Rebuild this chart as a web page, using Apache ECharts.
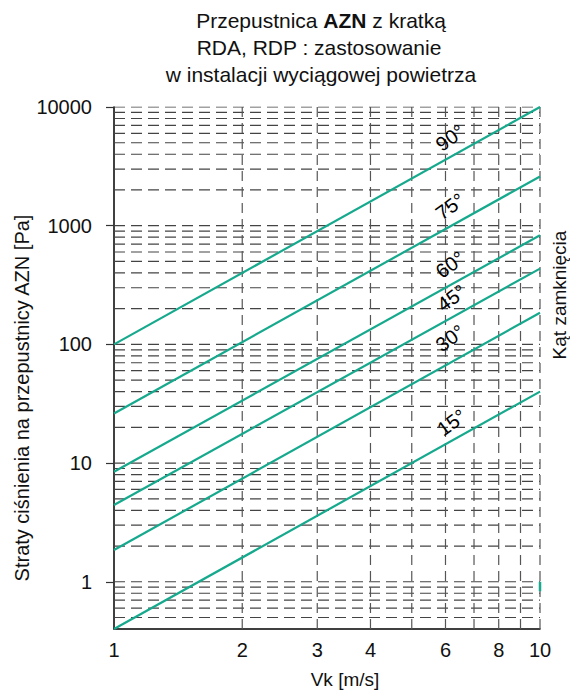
<!DOCTYPE html>
<html>
<head>
<meta charset="utf-8">
<script src="https://cdn.jsdelivr.net/npm/echarts@6/dist/echarts.min.js"></script>
<style>html,body{margin:0;padding:0;background:#fff}#c{width:570px;height:690px}</style>
</head>
<body>
<div id="c"></div>
<script>
// ---- data ----
const vk = [1, 10];
const kat = ['90°', '75°', '60°', '45°', '30°', '15°'];
const dp90 = [100, 10000];
const dp75 = [26.2, 2600];
const dp60 = [8.45, 830];
const dp45 = [4.43, 435];
const dp30 = [1.85, 185];
const dp15 = [0.4, 40];
const labelVk = [6.15, 6.15, 6.15, 6.2, 6.15, 6.2];
const labelDp = [5500, 1450, 470, 246, 113, 22];
const markVk = [10, 10];
const markDp = [0.83, 1];
const xTicks = [1, 2, 3, 4, 6, 8, 10];
const yTicks = [1, 10, 100, 1000, 10000];
const gridX = [2, 3, 4, 5, 6, 7, 8, 9, 10];
const gridY = [0.5, 0.6, 0.7, 0.8, 0.9, 1, 2, 3, 4, 5, 6, 7, 8, 9, 10, 20, 30, 40, 50, 60, 70, 80, 90,
  100, 200, 300, 400, 500, 600, 700, 800, 900, 1000, 2000, 3000, 4000, 5000, 6000, 7000, 8000, 9000, 10000];

const FONT = 'Liberation Sans, Arial, Helvetica, sans-serif';
const GREEN = '#16a98d';
const allDp = [dp90, dp75, dp60, dp45, dp30, dp15];

const series = [];
gridY.forEach(v => series.push({
  type: 'line', silent: true, z: 1, symbol: 'none', animation: false,
  data: [[1, v], [10, v]],
  lineStyle: { color: '#444', width: 1.2, type: [11, 6] }
}));
gridX.forEach(v => series.push({
  type: 'line', silent: true, z: 1, symbol: 'none', animation: false,
  data: [[v, 0.4], [v, 10000]],
  lineStyle: { color: '#555', width: 1.2, type: [10, 6] }
}));
allDp.forEach((d, i) => series.push({
  type: 'line', name: kat[i], z: 3, symbol: 'none', animation: false,
  data: vk.map((x, j) => [x, d[j]]),
  lineStyle: { color: GREEN, width: 2.2 }
}));
series.push({
  type: 'line', z: 3, symbol: 'none', animation: false,
  data: markVk.map((x, j) => [x, markDp[j]]),
  lineStyle: { color: GREEN, width: 2.5 }
});
series.push({
  type: 'scatter', z: 4, symbolSize: 0, animation: false,
  data: labelVk.map((x, i) => ({ value: [x, labelDp[i]], name: kat[i] })),
  label: {
    show: true, position: 'inside', formatter: '{b}', rotate: 36,
    fontSize: 20, fontFamily: FONT, color: '#000', opacity: 1
  },
  itemStyle: { opacity: 1 }
});

const chart = echarts.init(document.getElementById('c'), null, { renderer: 'svg' });
chart.setOption({
  backgroundColor: '#fff',
  animation: false,
  grid: { left: 114, right: 30, top: 107, bottom: 61, containLabel: false },
  xAxis: {
    type: 'log', logBase: 10, min: 1, max: 10,
    axisLine: { show: true, lineStyle: { color: '#000', width: 1.5 } },
    axisTick: { show: false },
    splitLine: { show: false },
    minorTick: { show: false },
    axisLabel: { customValues: xTicks, margin: 11, fontSize: 20, fontFamily: FONT, color: '#111',
      formatter: v => String(v) }
  },
  yAxis: {
    type: 'log', logBase: 10, min: 0.4, max: 10000,
    axisLine: { show: true, lineStyle: { color: '#000', width: 1.5 } },
    axisTick: { show: true, customValues: yTicks, length: 8, lineStyle: { color: '#333', width: 1.2 } },
    splitLine: { show: false },
    axisLabel: { customValues: yTicks, margin: 22, fontSize: 20, fontFamily: FONT, color: '#111',
      formatter: v => String(Math.round(v)) }
  },
  series: series,
  graphic: [
    { type: 'text', x: 321, y: 20, z: 10, style: {
      text: '{n|Przepustnica }{b|AZN}{n| z kratką}', align: 'center', verticalAlign: 'middle',
      rich: { n: { fontSize: 21, fontFamily: FONT, fill: '#111' }, b: { fontSize: 21, fontFamily: FONT, fontWeight: 'bold', fill: '#111' } } } },
    { type: 'text', x: 319, y: 47, z: 10, style: {
      text: 'RDA, RDP : zastosowanie', align: 'center', verticalAlign: 'middle', fontSize: 21, fontFamily: FONT, fill: '#111' } },
    { type: 'text', x: 321, y: 74, z: 10, style: {
      text: 'w instalacji wyciągowej powietrza', align: 'center', verticalAlign: 'middle', fontSize: 21, fontFamily: FONT, fill: '#111' } },
    { type: 'text', x: 22, y: 398, rotation: Math.PI / 2, z: 10, style: {
      text: 'Straty ciśnienia na przepustnicy AZN [Pa]', align: 'center', verticalAlign: 'middle', fontSize: 20, fontFamily: FONT, fill: '#111' } },
    { type: 'text', x: 559, y: 295, rotation: Math.PI / 2, z: 10, style: {
      text: 'Kąt zamknięcia', align: 'center', verticalAlign: 'middle', fontSize: 19, fontFamily: FONT, fill: '#111' } },
    { type: 'text', x: 345, y: 679, z: 10, style: {
      text: 'Vk [m/s]', align: 'center', verticalAlign: 'middle', fontSize: 19, fontFamily: FONT, fill: '#111' } }
  ]
});
</script>
</body>
</html>
